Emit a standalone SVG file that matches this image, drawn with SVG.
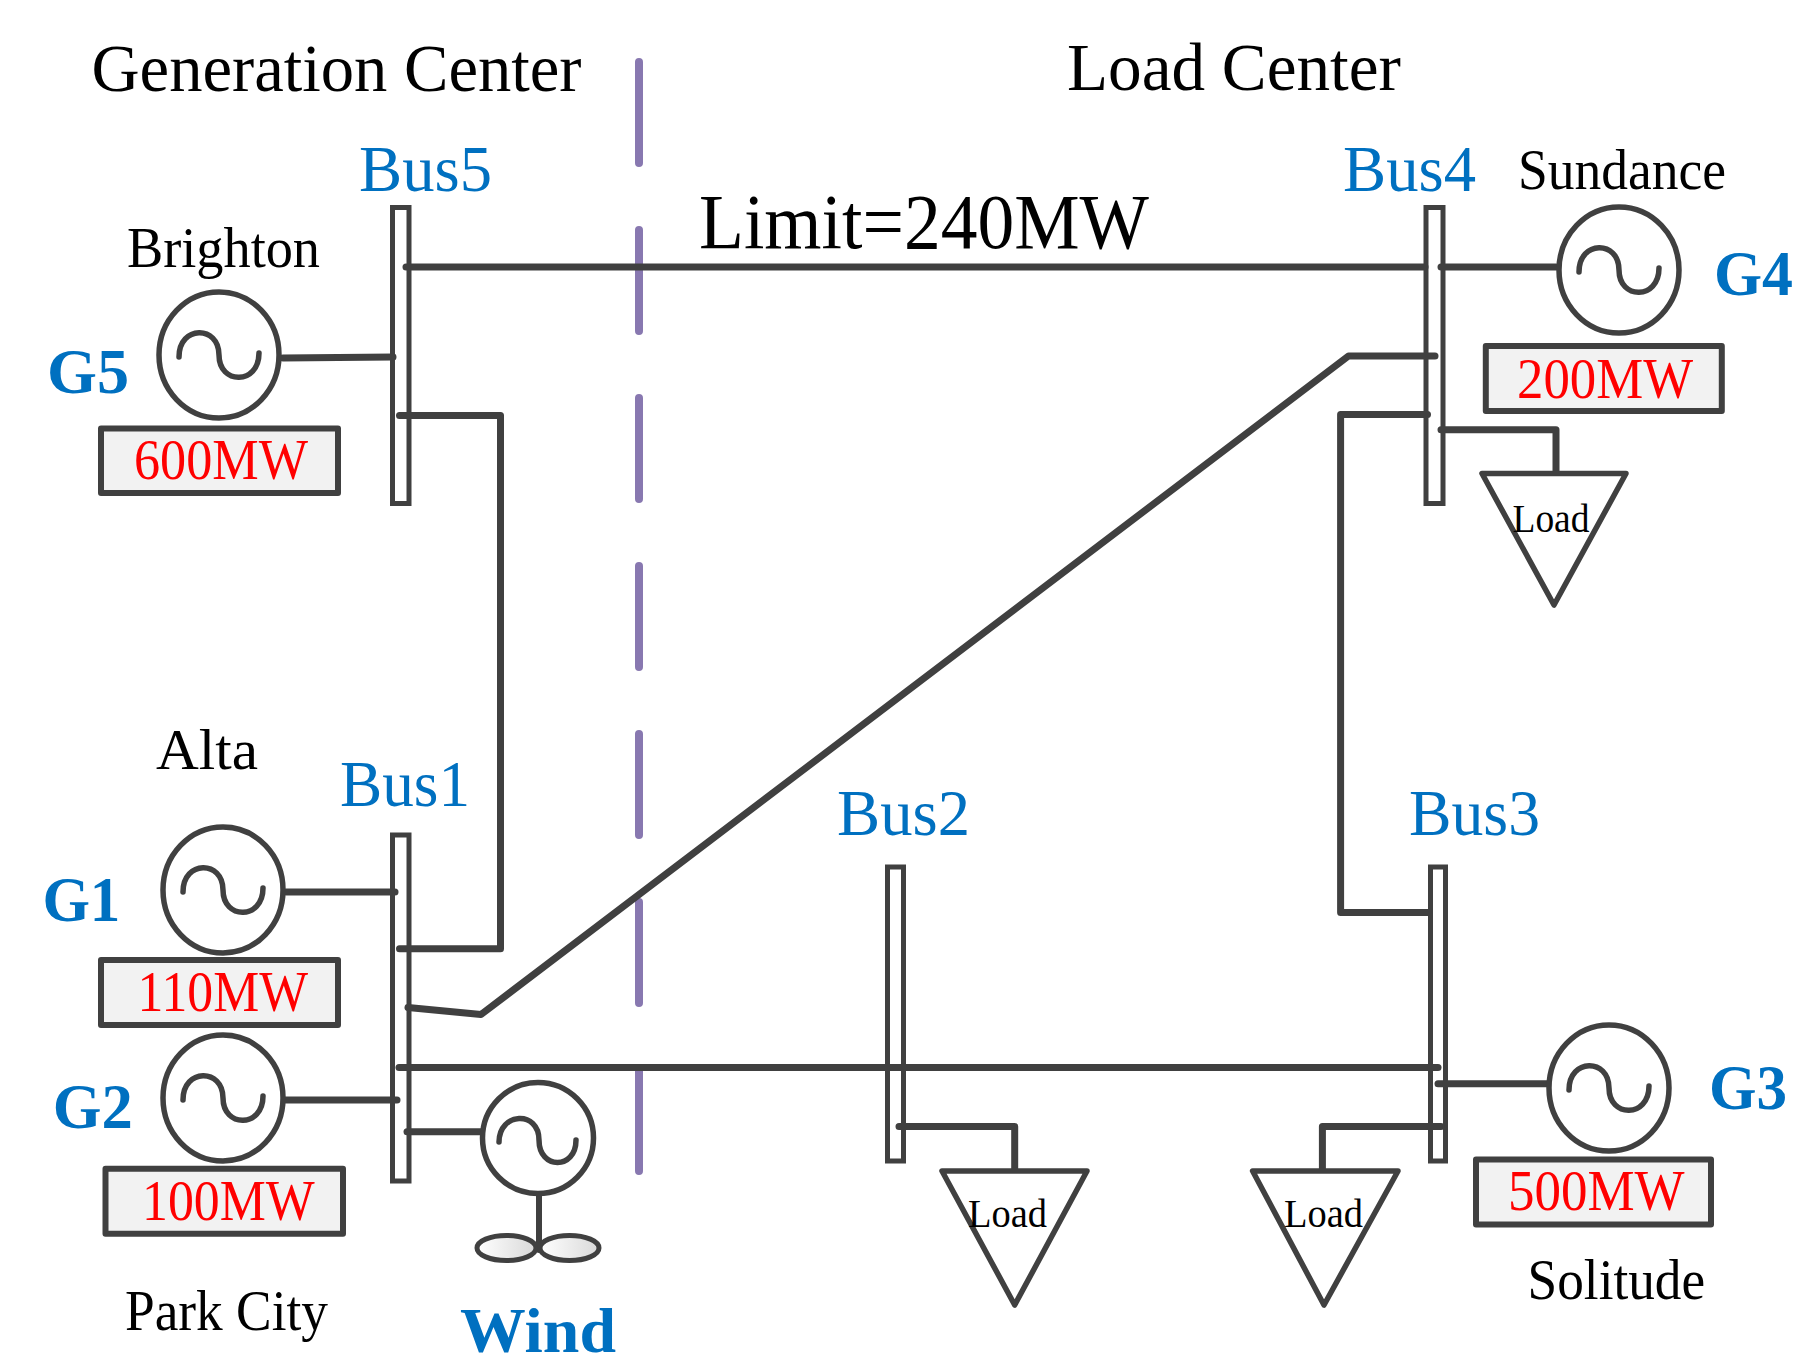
<svg xmlns="http://www.w3.org/2000/svg" xmlns:xlink="http://www.w3.org/1999/xlink" width="1805" height="1367" viewBox="0 0 1805 1367">
<style>
.t{font-family:"Liberation Serif","Times New Roman",serif;fill:#000}
.bus{font-family:"Liberation Serif","Times New Roman",serif;fill:#0070C0;font-size:66px}
.g{font-family:"Liberation Serif","Times New Roman",serif;fill:#0070C0;font-size:64px;font-weight:bold}
.mw{font-family:"Liberation Serif","Times New Roman",serif;fill:#FF0000;font-size:57px}
.bar{fill:#fff;stroke:#404040;stroke-width:5}
.ln{fill:none;stroke:#404040;stroke-width:7;stroke-linecap:round;stroke-linejoin:round}
.gc{fill:#fff;stroke:#404040;stroke-width:5.5}
.sine{fill:none;stroke:#404040;stroke-width:5.5;stroke-linecap:round}
.box{fill:#F2F2F2;stroke:#404040;stroke-width:6;stroke-linejoin:round}
.load{fill:#fff;stroke:#404040;stroke-width:5.5;stroke-linejoin:round}
.lt{font-family:"Liberation Serif","Times New Roman",serif;fill:#000;font-size:39px}
</style>
<defs>
<g id="gen">
<ellipse cx="0" cy="0" rx="60" ry="63" class="gc"/>
<path class="sine" d="M-40,2 C-40,-30 0,-30 0,0 C0,30 40,30 40,-2"/>
</g>
<linearGradient id="prop" x1="0" y1="0" x2="1" y2="0">
<stop offset="0" stop-color="#FFFFFF"/>
<stop offset="1" stop-color="#D9D9D9"/>
</linearGradient>
</defs>
<rect width="1805" height="1367" fill="#fff"/>

<g id="titles">
<text class="t" x="91.5" y="91" font-size="67" textLength="490" lengthAdjust="spacingAndGlyphs">Generation Center</text>
<text class="t" x="1067" y="90" font-size="67" textLength="334" lengthAdjust="spacingAndGlyphs">Load Center</text>
</g>

<g id="divider">
<line x1="639" y1="62" x2="639" y2="1172" stroke="#8878B0" stroke-width="8" stroke-linecap="round" stroke-dasharray="101 67"/>
</g>

<g id="bus5">
<rect class="bar" x="392.5" y="207.5" width="16.5" height="296"/>
<text class="bus" x="359" y="191" textLength="133" lengthAdjust="spacingAndGlyphs">Bus5</text>
</g>
<g id="bus4">
<rect class="bar" x="1426" y="207.5" width="17" height="296"/>
<text class="bus" x="1343" y="190.5" textLength="133" lengthAdjust="spacingAndGlyphs">Bus4</text>
</g>
<g id="bus1">
<rect class="bar" x="392.5" y="835" width="16.5" height="346"/>
<text class="bus" x="340" y="806" textLength="130" lengthAdjust="spacingAndGlyphs">Bus1</text>
</g>
<g id="bus2">
<rect class="bar" x="887.5" y="867" width="16" height="294"/>
<text class="bus" x="837" y="834.6" textLength="133" lengthAdjust="spacingAndGlyphs">Bus2</text>
</g>
<g id="bus3">
<rect class="bar" x="1430.5" y="867" width="15" height="294"/>
<text class="bus" x="1409" y="834.6" textLength="131" lengthAdjust="spacingAndGlyphs">Bus3</text>
</g>

<g id="connectors">
<line class="ln" x1="406" y1="267" x2="1425" y2="267"/>
<line class="ln" x1="1441" y1="267" x2="1556" y2="267"/>
<polyline class="ln" points="283,358 393,357"/>
<polyline class="ln" points="399.5,415.5 500.5,415.5 500.5,948.8 399.5,948.8"/>
<polyline class="ln" points="1435,356 1348.5,356 481,1014.5 408,1007.5"/>
<polyline class="ln" points="1427.5,414.6 1340.6,414.6 1340.6,912.5 1428,912.5"/>
<polyline class="ln" points="1441,429.7 1556,429.7 1556,473.5"/>
<line class="ln" x1="286" y1="892" x2="395" y2="892"/>
<line class="ln" x1="280" y1="1100" x2="397" y2="1100"/>
<line class="ln" x1="399" y1="1067.5" x2="1438" y2="1067.5"/>
<line class="ln" x1="407" y1="1131.7" x2="481" y2="1131.7"/>
<polyline class="ln" points="899,1126.6 1014.7,1126.6 1014.7,1171"/>
<polyline class="ln" points="1441,1126.6 1322.4,1126.6 1322.4,1171"/>
<line class="ln" x1="1438" y1="1083.7" x2="1547" y2="1083.7"/>
</g>

<g id="g5">
<use xlink:href="#gen" href="#gen" x="219" y="355"/>
<rect class="box" x="101" y="428.5" width="237" height="64.5"/>
<text class="mw" x="134" y="479" textLength="174" lengthAdjust="spacingAndGlyphs">600MW</text>
<text class="g" x="47" y="393" textLength="82" lengthAdjust="spacingAndGlyphs">G5</text>
<text class="t" x="127" y="266.6" font-size="56" textLength="193" lengthAdjust="spacingAndGlyphs">Brighton</text>
</g>

<g id="g4">
<use xlink:href="#gen" href="#gen" x="1619" y="270"/>
<rect class="box" x="1485.8" y="346" width="236" height="65"/>
<text class="mw" x="1517" y="398" textLength="176" lengthAdjust="spacingAndGlyphs">200MW</text>
<text class="g" x="1714" y="294.7" textLength="79" lengthAdjust="spacingAndGlyphs">G4</text>
<text class="t" x="1518" y="189.4" font-size="57" textLength="208" lengthAdjust="spacingAndGlyphs">Sundance</text>
</g>

<g id="load4">
<polygon class="load" points="1482,473.5 1626,473.5 1554,605"/>
<text class="lt" x="1512.5" y="532" textLength="77" lengthAdjust="spacingAndGlyphs">Load</text>
</g>

<g id="g1">
<use xlink:href="#gen" href="#gen" x="223" y="890"/>
<rect class="box" x="101" y="960" width="237" height="65"/>
<text class="mw" x="137.5" y="1011" textLength="170.5" lengthAdjust="spacingAndGlyphs">110MW</text>
<text class="g" x="42.4" y="921" textLength="78" lengthAdjust="spacingAndGlyphs">G1</text>
<text class="t" x="156" y="769" font-size="58" textLength="102" lengthAdjust="spacingAndGlyphs">Alta</text>
</g>

<g id="g2">
<use xlink:href="#gen" href="#gen" x="223" y="1098"/>
<rect class="box" x="105.5" y="1168.8" width="237.5" height="65"/>
<text class="mw" x="142" y="1220" textLength="172.7" lengthAdjust="spacingAndGlyphs">100MW</text>
<text class="g" x="52.7" y="1127.5" textLength="80" lengthAdjust="spacingAndGlyphs">G2</text>
<text class="t" x="125" y="1330" font-size="58" textLength="203" lengthAdjust="spacingAndGlyphs">Park City</text>
</g>

<g id="wind">
<line class="ln" x1="539" y1="1195" x2="539" y2="1250" style="stroke-width:6"/>
<ellipse cx="506.5" cy="1248" rx="29.5" ry="12.5" fill="url(#prop)" stroke="#404040" stroke-width="5"/>
<ellipse cx="569.5" cy="1248" rx="29.5" ry="12.5" fill="url(#prop)" stroke="#404040" stroke-width="5"/>
<circle cx="538" cy="1138" r="55.5" class="gc"/>
<path class="sine" d="M499,1142 C499,1112 539,1110 539,1140 C539,1170 576,1170 576,1140"/>
<text class="g" x="460" y="1351.6" textLength="156" lengthAdjust="spacingAndGlyphs">Wind</text>
</g>

<g id="load2">
<polygon class="load" points="942,1171 1087,1171 1014.7,1305"/>
<text class="lt" x="968" y="1227" textLength="79" lengthAdjust="spacingAndGlyphs">Load</text>
</g>

<g id="load3">
<polygon class="load" points="1252.6,1171 1398,1171 1324,1305"/>
<text class="lt" x="1284" y="1227" textLength="79" lengthAdjust="spacingAndGlyphs">Load</text>
</g>

<g id="g3">
<use xlink:href="#gen" href="#gen" x="1609" y="1088"/>
<rect class="box" x="1476" y="1159.5" width="235" height="65"/>
<text class="mw" x="1508" y="1210.4" textLength="176.6" lengthAdjust="spacingAndGlyphs">500MW</text>
<text class="g" x="1709" y="1109" textLength="78" lengthAdjust="spacingAndGlyphs">G3</text>
<text class="t" x="1527.6" y="1299" font-size="58" textLength="177.5" lengthAdjust="spacingAndGlyphs">Solitude</text>
</g>

<g id="limit">
<text class="t" x="699" y="248" font-size="78" textLength="450" lengthAdjust="spacingAndGlyphs">Limit=240MW</text>
</g>
</svg>
